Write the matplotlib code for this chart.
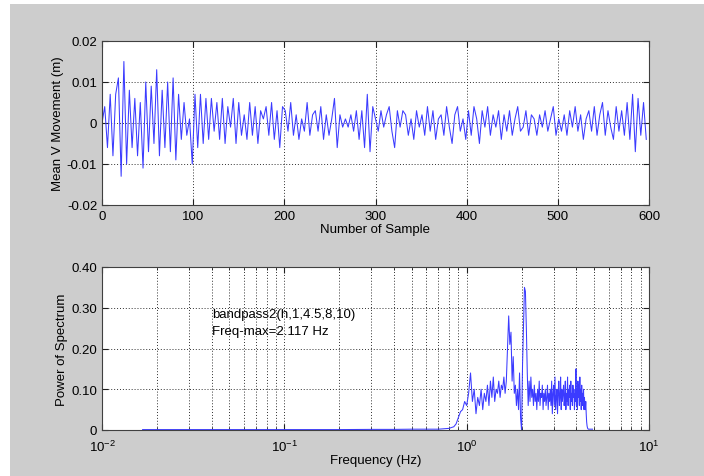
import numpy as np
import matplotlib
matplotlib.use("Agg")
import matplotlib.pyplot as plt
from matplotlib.patches import Rectangle
from matplotlib.ticker import LogLocator, NullFormatter

plt.rcParams['font.family'] = ['Liberation Sans', 'DejaVu Sans']
plt.rcParams['mathtext.fontset'] = 'custom'
plt.rcParams['mathtext.rm'] = 'Liberation Sans'

# ---- top: mean vertical movement (mm), one value every 3 samples ----
sample_step = 3
move_mm_a = [0, 4, -6, 7, -8, 7, 11, -13, 15, -10, 8, -6, 6, -8, 5, -11, 10, -7, 9, -5,
             13, -8, 8, -6, 10, -7, 11, -9, 7, -4, 5, -3, 1, -10]
move_mm_b = [7, -6, 7, -5, 6, -4, 6, -2, 5, -4, 6, -5, 4, -1, 6, -5, 5, -3, 2, -4,
             5, -3, 4, -5, 3, 1, 4, -3, 5, -4, 3, -6, 4]
move_mm_c = [3, -2, 5, -3, 2, -4, 1, -2, 5, -3, 2, 3, -2, 4, -4, 2, -3, 1, 6, -6,
             2, -1, 1, -1, 2, -2, 3, -4, 3, -6, 7, -7, 4]
move_mm_d = [1, -2, 3, -1, 2, 4, -2, -6, 3, -1,
             3, 2, -3, 1, -4, 3, -1, 2, -3, 4,
             -2, 3, -4, 1, 2, -3, 4, -1, -5, 2,
             4, -2, 1, -4, 3, -3, 4, 1, -5, 3,
             -1, 4, -3, 2, -1, 3, -4, 2, -2, 3,
             -3, 1, 4, -2, -1, 3, -3, 2, 1, -3,
             2, -1, 3, -2, 1, 4, -3, 1, -2, 2,
             -3, 3, -1, 4, -2, 2, -4, 1, 3, -2,
             4, -3, 2, 5, -3, 3, -1, -4, 4, -2,
             3, -3, 5, -4, 7, -7, 6, -3, 5, -4]
top_yticks = [-0.02, -0.01, 0, 0.01, 0.02]
top_yticklabels = ['-0.02', '-0.01', '0', '0.01', '0.02']
top_xticks = [0, 100, 200, 300, 400, 500, 600]

# ---- bottom: power spectrum ----
freq_low = [0.0167, 0.05, 0.1, 0.2, 0.3, 0.4, 0.5, 0.6, 0.7, 0.75, 0.8, 0.85, 0.875, 0.9, 0.925]
power_low = [0.001, 0.001, 0.001, 0.001, 0.0015, 0.0015, 0.002, 0.002, 0.002, 0.003, 0.004,
             0.008, 0.015, 0.03, 0.045]
freq_band_start = 0.95
freq_band_step = 0.025
power_band = [0.05, 0.07, 0.06, 0.09, 0.14, 0.07, 0.10, 0.04, 0.08, 0.06,
              0.10, 0.05, 0.09, 0.07, 0.11, 0.06, 0.12, 0.08, 0.13, 0.07,
              0.10, 0.09, 0.12, 0.08, 0.11, 0.10, 0.13, 0.09, 0.12, 0.20,
              0.28, 0.21, 0.24, 0.12, 0.18, 0.09, 0.11, 0.06, 0.10, 0.05,
              0.14, 0.03, 0.00, 0.16, 0.26, 0.35, 0.34, 0.25, 0.14, 0.06,
              0.12, 0.07, 0.13, 0.08, 0.10, 0.06, 0.11, 0.07, 0.09, 0.05,
              0.10, 0.07, 0.12, 0.06, 0.09, 0.08, 0.11, 0.05, 0.09, 0.07,
              0.10, 0.06, 0.08, 0.11, 0.05, 0.09, 0.07, 0.10, 0.06, 0.12,
              0.04, 0.09, 0.11, 0.06, 0.13, 0.05, 0.08, 0.10, 0.04, 0.09,
              0.12, 0.06, 0.08, 0.13, 0.05, 0.10, 0.07, 0.09, 0.11, 0.06,
              0.08, 0.12, 0.05, 0.09, 0.07, 0.13, 0.06, 0.10, 0.08, 0.11,
              0.05, 0.12, 0.07, 0.09, 0.06, 0.11, 0.08, 0.10, 0.05, 0.09,
              0.07, 0.15, 0.06, 0.10, 0.05, 0.12, 0.08, 0.11, 0.06, 0.13,
              0.07, 0.10, 0.05, 0.11, 0.06, 0.09, 0.07, 0.10, 0.05, 0.08,
              0.06, 0.05, 0.07, 0.04, 0.02, 0.01, 0.005, 0.003, 0.002, 0.002,
              0.002, 0.002, 0.002, 0.002, 0.002, 0.002, 0.002, 0.002, 0.002]
bot_yticks = [0, 0.1, 0.2, 0.3, 0.4]
bot_yticklabels = ['0', '0.10', '0.20', '0.30', '0.40']
annotation_lines = ['bandpass2(h,1,4.5,8,10)', 'Freq-max=2.117 Hz']

# ---------------------------------------------------------------
move = np.concatenate([move_mm_a, move_mm_b, move_mm_c, move_mm_d]) * 0.001
samples = np.arange(len(move)) * sample_step
freq_band = freq_band_start + np.arange(len(power_band)) * freq_band_step
freq = np.concatenate([freq_low, freq_band])
power = np.concatenate([power_low, power_band])

W, H = 704, 477
fig = plt.figure(figsize=(W / 100, H / 100), dpi=100, facecolor='white')
fig.patches.append(Rectangle((10 / W, 0), 1, 1 - 5 / H, transform=fig.transFigure,
                             facecolor='#cdcdcd', edgecolor='none', zorder=-10))

line_color = '#3b3bff'
fs = 9.5

def style(ax):
    ax.set_facecolor('white')
    for s in ax.spines.values():
        s.set_color('#404040')
        s.set_linewidth(0.8)
    ax.tick_params(which='both', direction='in', top=True, right=True,
                   labelsize=fs, colors='#202020', labelcolor='black')
    ax.tick_params(which='major', length=4)
    ax.tick_params(which='minor', length=2)
    ax.grid(True, which='major', linestyle=(0, (1, 2)), color='#303030', linewidth=0.7)

# top axes
ax1 = fig.add_axes([102 / W, 1 - 206 / H, 547 / W, 164 / H])
style(ax1)
ax1.plot(samples, move, color=line_color, linewidth=0.75)
ax1.set_xlim(0, 600)
ax1.set_ylim(-0.02, 0.02)
ax1.set_xticks(top_xticks)
ax1.set_yticks(top_yticks)
ax1.set_yticklabels(top_yticklabels)
ax1.set_xlabel('Number of Sample', fontsize=fs, labelpad=1)
ax1.set_ylabel('Mean V Movement (m)', fontsize=fs, labelpad=2)

# bottom axes
ax2 = fig.add_axes([102 / W, 1 - 431 / H, 547 / W, 163 / H])
style(ax2)
ax2.set_xscale('log')
ax2.plot(freq, power, color=line_color, linewidth=0.75)
ax2.set_xlim(0.01, 10)
ax2.set_ylim(0, 0.4)
ax2.set_yticks(bot_yticks)
ax2.set_yticklabels(bot_yticklabels)
ax2.xaxis.set_major_locator(LogLocator(base=10, numticks=10))
ax2.xaxis.set_minor_locator(LogLocator(base=10, subs=np.arange(2, 10), numticks=20))
ax2.xaxis.set_minor_formatter(NullFormatter())
ax2.tick_params(axis='x', which='major', pad=6)
ax2.grid(True, which='minor', axis='x', linestyle=(0, (1, 2)), color='#303030', linewidth=0.7)
ax2.set_xlabel('Frequency (Hz)', fontsize=fs, labelpad=0)
ax2.set_ylabel('Power of Spectrum', fontsize=fs, labelpad=2)
ax2.text(0.040, 0.285, annotation_lines[0], fontsize=fs, va='center', ha='left')
ax2.text(0.040, 0.243, annotation_lines[1], fontsize=fs, va='center', ha='left')

fig.savefig('out.png', dpi=100, facecolor=fig.get_facecolor())
